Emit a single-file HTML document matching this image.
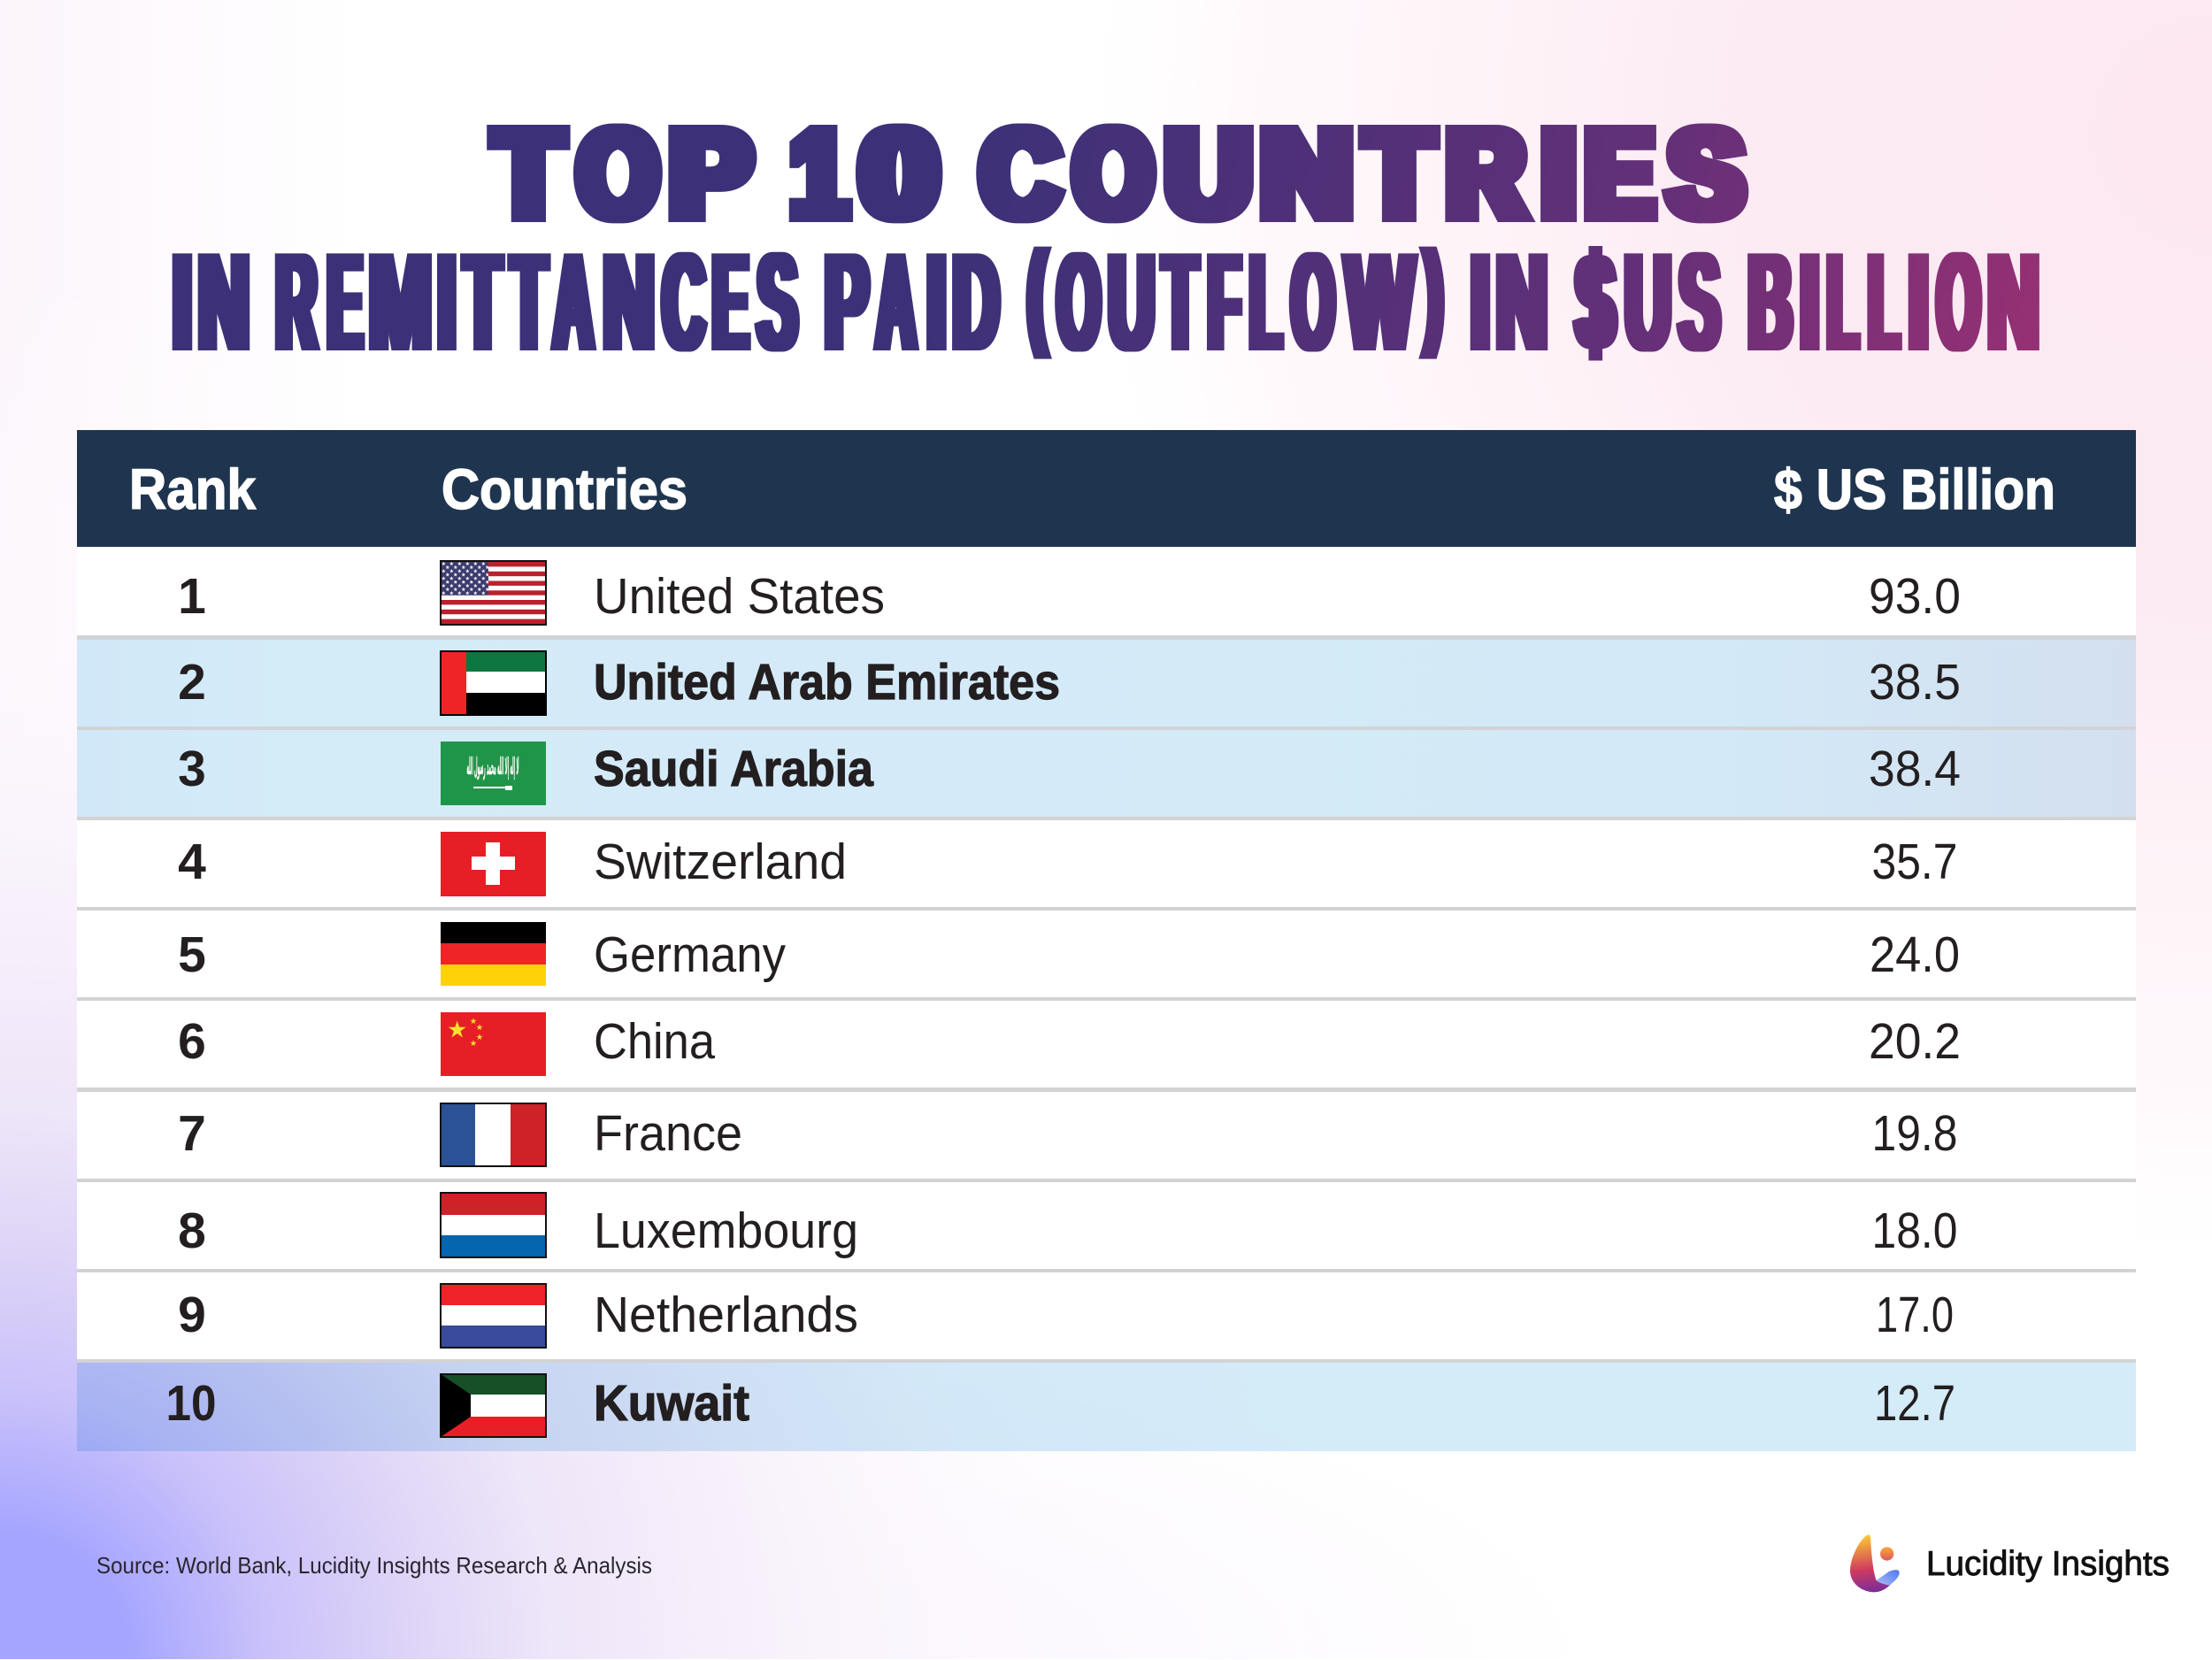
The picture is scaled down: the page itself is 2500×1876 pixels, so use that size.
<!DOCTYPE html>
<html lang="en">
<head>
<meta charset="utf-8">
<title>Top 10 Countries in Remittances Paid</title>
<style>
html,body{margin:0;padding:0;background:#fff;width:2500px;height:1876px;overflow:hidden}
svg{display:block}
text{font-family:"Liberation Sans",sans-serif}
.t{font-weight:700;fill:url(#titleGrad);stroke:url(#titleGrad);stroke-linejoin:miter;stroke-miterlimit:3}
.t1{font-size:141px;stroke-width:13px}
.t2{font-size:155px;stroke-width:3px}
.h{font-weight:700;font-size:64px;fill:#fff;stroke:#fff;stroke-width:1.5px}
.r{font-weight:700;font-size:57px;fill:#231f20;text-anchor:middle}
.c{font-size:57px;fill:#231f20}
.b{font-weight:700;font-size:57px;fill:#231f20;stroke:#231f20;stroke-width:1.2px}
.v{font-size:57px;fill:#231f20;text-anchor:middle}
</style>
</head>
<body>
<svg xmlns="http://www.w3.org/2000/svg" width="2500" height="1876" viewBox="0 0 2500 1876">
<defs>
<radialGradient id="bgBL" gradientUnits="userSpaceOnUse" cx="0" cy="1876" r="1600">
<stop offset="0.09" stop-color="#a5a5ff"/>
<stop offset="0.19" stop-color="#cac2fa"/>
<stop offset="0.3" stop-color="#e0d6f7"/>
<stop offset="0.39" stop-color="#eee6f9"/>
<stop offset="0.5" stop-color="#f6eefa"/>
<stop offset="0.7" stop-color="#fdfafe" stop-opacity="0.5"/>
<stop offset="1" stop-color="#ffffff" stop-opacity="0"/>
</radialGradient>
<radialGradient id="bgB" gradientUnits="userSpaceOnUse" cx="0" cy="0" r="1" gradientTransform="translate(700 1876) scale(1100 350)">
<stop offset="0" stop-color="#f6eefb" stop-opacity="0.8"/>
<stop offset="1" stop-color="#f6eefb" stop-opacity="0"/>
</radialGradient>
<radialGradient id="bgTR" gradientUnits="userSpaceOnUse" cx="2500" cy="150" r="1300">
<stop offset="0" stop-color="#fde8f2"/>
<stop offset="0.42" stop-color="#fcebf3"/>
<stop offset="0.65" stop-color="#fef4f8"/>
<stop offset="0.85" stop-color="#fff9fb"/>
<stop offset="1" stop-color="#ffffff" stop-opacity="0"/>
</radialGradient>
<linearGradient id="bgL" gradientUnits="userSpaceOnUse" x1="0" y1="0" x2="400" y2="0">
<stop offset="0" stop-color="#fcf5fb"/>
<stop offset="1" stop-color="#fcf5fb" stop-opacity="0"/>
</linearGradient>
<linearGradient id="rowGrad" gradientUnits="userSpaceOnUse" x1="87" y1="0" x2="2414" y2="0">
<stop offset="0" stop-color="#d1e8f8"/>
<stop offset="0.1" stop-color="#d4ebf8"/>
<stop offset="0.8" stop-color="#d3e9f7"/>
<stop offset="1" stop-color="#d3dfef"/>
</linearGradient>
<linearGradient id="titleGrad" gradientUnits="userSpaceOnUse" x1="1100" y1="150" x2="2350" y2="400">
<stop offset="0" stop-color="#3c3178"/>
<stop offset="0.6" stop-color="#622f78"/>
<stop offset="1" stop-color="#9b3073"/>
</linearGradient>
<linearGradient id="logoMain" x1="0.4" y1="0" x2="0.5" y2="1">
<stop offset="0" stop-color="#fdcb30"/>
<stop offset="0.6" stop-color="#d03a60"/>
<stop offset="1" stop-color="#7a2c9c"/>
</linearGradient>
<linearGradient id="logoWing" x1="1" y1="0" x2="0" y2="1">
<stop offset="0" stop-color="#4a78f2"/>
<stop offset="1" stop-color="#b0bcf5"/>
</linearGradient>
<linearGradient id="logoDot" x1="0.5" y1="0" x2="0.5" y2="1">
<stop offset="0" stop-color="#f9a83c"/>
<stop offset="1" stop-color="#e0585c"/>
</linearGradient>
<filter id="thicken1" filterUnits="userSpaceOnUse" x="0" y="100" width="2500" height="190" color-interpolation-filters="sRGB">
<feMorphology operator="dilate" radius="5 0"/>
</filter>
<filter id="thicken2" filterUnits="userSpaceOnUse" x="0" y="260" width="2500" height="170" color-interpolation-filters="sRGB">
<feMorphology operator="dilate" radius="5 0"/>
</filter>
<polygon id="star" points="0,-1 0.225,-0.309 0.951,-0.309 0.363,0.118 0.588,0.809 0,0.382 -0.588,0.809 -0.363,0.118 -0.951,-0.309 -0.225,-0.309"/>
<pattern id="usStars" patternUnits="userSpaceOnUse" x="499" y="635" width="9" height="8.3">
<use href="#star" transform="translate(2.3 2.1) scale(2.5)" fill="#fff"/>
<use href="#star" transform="translate(6.8 6.2) scale(2.5)" fill="#fff"/>
</pattern>
</defs>

<g>
<rect width="2500" height="1876" fill="#fff"/>
<rect width="2500" height="1876" fill="url(#bgL)"/>
<rect width="2500" height="1876" fill="url(#bgTR)"/>
<rect width="2500" height="1876" fill="url(#bgB)"/>
<rect width="2500" height="1876" fill="url(#bgBL)"/>
<rect y="1875" width="2500" height="1" fill="#fff"/>
</g>

<g>
<g filter="url(#thicken1)">
<text class="t t1 fit" y="244.5" data-size="141" data-stroke="13" data-dilate="5" data-edges="551.4,643.4 648.4,748.8 756.2,854.9">TOP</text>
<text class="t t1 fit" y="244.5" data-size="141" data-stroke="13" data-dilate="5" data-edges="891.4,961 967,1065.5">10</text>
<text class="t t1 fit" y="244.5" data-size="141" data-stroke="13" data-dilate="5" data-edges="1103.7,1202.3 1209,1307.8 1316,1415.6 1423.9,1529.2 1535.8,1627 1633.7,1733.2 1741.5,1782 1790.4,1873.3 1880,1976">COUNTRIES</text>
</g>
<g filter="url(#thicken2)">
<text class="t t2 fit" y="394.5" data-size="155" data-stroke="3" data-dilate="5" data-edges="194.9,217.2 223.9,281.9">IN</text>
<text class="t t2 fit" y="394.5" data-size="155" data-stroke="3" data-dilate="5" data-edges="310.9,363.2 369,412.1 417.1,487.6 494.2,515.8 520.7,570.5 573.8,621.9 620.2,675.8 681.6,739.6 746.3,799.3 804.3,848.3 853.2,903.8">REMITTANCES</text>
<text class="t t2 fit" y="394.5" data-size="155" data-stroke="3" data-dilate="5" data-edges="932,984.2 985,1040.6 1047.3,1069.7 1076.3,1131.8">PAID</text>
<text class="t t2 fit" y="394.5" data-size="155" data-stroke="3" data-dilate="5" data-edges="1159.2,1185.7 1192.4,1246.3 1252.2,1305.3 1310.3,1357.5 1364.2,1404.8 1411.4,1452.9 1457,1511 1515,1603.8 1606.3,1632.8">(OUTFLOW)</text>
<text class="t t2 fit" y="394.5" data-size="155" data-stroke="3" data-dilate="5" data-edges="1661.9,1684.2 1690.9,1748.9">IN</text>
<text class="t t2 fit" y="394.5" data-size="155" data-stroke="3" data-dilate="5" data-edges="1778,1828.5 1836,1889 1894.9,1946.3">$US</text>
<text class="t t2 fit" y="394.5" data-size="155" data-stroke="3" data-dilate="5" data-edges="1975.3,2027.5 2034.2,2056.5 2064,2104.6 2110.5,2151 2156.9,2180 2186.7,2240.6 2246.4,2304.5">BILLION</text>
</g>
</g>

<g>
<g>
<rect x="87" y="486" width="2327" height="132" fill="#1f354f"/>
<text class="h" x="146" y="575" textLength="143" lengthAdjust="spacingAndGlyphs">Rank</text>
<text class="h" x="499" y="575" textLength="278" lengthAdjust="spacingAndGlyphs">Countries</text>
<text class="h" x="2005" y="575" textLength="318" lengthAdjust="spacingAndGlyphs">$ US Billion</text>
</g>

<g>
<rect x="87" y="618" width="2327" height="100" fill="#fff"/>
<rect x="87" y="927" width="2327" height="609" fill="#fff"/>
<rect x="87" y="723" width="2327" height="98" fill="url(#rowGrad)"/>
<rect x="87" y="825" width="2327" height="98" fill="url(#rowGrad)"/>
<rect x="87" y="1540" width="2327" height="100" fill="#d4ebf8" style="mix-blend-mode:multiply"/>
<g fill="#d2d3d5">
<rect x="87" y="718" width="2327" height="5"/>
<rect x="87" y="821" width="2327" height="4"/>
<rect x="87" y="923" width="2327" height="4"/>
<rect x="87" y="1025" width="2327" height="4"/>
<rect x="87" y="1127" width="2327" height="4"/>
<rect x="87" y="1229" width="2327" height="5"/>
<rect x="87" y="1332" width="2327" height="4"/>
<rect x="87" y="1434" width="2327" height="4"/>
<rect x="87" y="1536" width="2327" height="4"/>
</g>
</g>

<g>
<text class="r" x="217" y="693">1</text>
<g>
<rect x="497" y="633" width="121" height="74" fill="#111"/>
<rect x="499" y="635" width="117" height="70" fill="#fff"/>
<g fill="#bb202d">
<rect x="499" y="635" width="117" height="5.4"/><rect x="499" y="645.8" width="117" height="5.4"/><rect x="499" y="656.5" width="117" height="5.4"/><rect x="499" y="667.3" width="117" height="5.4"/><rect x="499" y="678" width="117" height="5.4"/><rect x="499" y="688.8" width="117" height="5.4"/><rect x="499" y="699.6" width="117" height="5.4"/>
</g>
<rect x="499" y="635" width="53" height="37.7" fill="#3c3b6e"/>
<rect x="499" y="635" width="53" height="37.7" fill="url(#usStars)"/>
</g>
<text class="c" x="671" y="693" textLength="329" lengthAdjust="spacingAndGlyphs">United States</text>
<text class="v" x="2164" y="693" textLength="104" lengthAdjust="spacingAndGlyphs">93.0</text>
</g>

<g>
<text class="r" x="217" y="790">2</text>
<g>
<rect x="497" y="735" width="121" height="74" fill="#000"/>
<rect x="527" y="737" width="89" height="22" fill="#0e7640"/>
<rect x="527" y="759" width="89" height="24" fill="#fff"/>
<rect x="499" y="737" width="28" height="70" fill="#ef2427"/>
</g>
<text class="b" x="671" y="790" textLength="527" lengthAdjust="spacingAndGlyphs">United Arab Emirates</text>
<text class="v" x="2164" y="790" textLength="104" lengthAdjust="spacingAndGlyphs">38.5</text>
</g>

<g>
<text class="r" x="217" y="888">3</text>
<g>
<rect x="498" y="838" width="119" height="72" fill="#1f9549"/>
<text x="557" y="875" fill="#fff" stroke="#fff" stroke-width="0.5" font-size="26" font-weight="700" text-anchor="middle" textLength="59" lengthAdjust="spacingAndGlyphs" style="font-family:'DejaVu Sans',sans-serif">لا إله إلا الله محمد رسول الله</text>
<rect x="535" y="889" width="40" height="2" fill="#fff"/>
<rect x="571" y="888" width="8" height="5" fill="#fff"/>
</g>
<text class="b" x="671" y="888" textLength="316" lengthAdjust="spacingAndGlyphs">Saudi Arabia</text>
<text class="v" x="2164" y="888" textLength="104" lengthAdjust="spacingAndGlyphs">38.4</text>
</g>

<g>
<text class="r" x="217" y="993">4</text>
<g>
<rect x="498" y="940" width="119" height="73" fill="#e61f26"/>
<rect x="533" y="968" width="49" height="15" fill="#fff"/>
<rect x="549" y="952" width="16" height="48" fill="#fff"/>
</g>
<text class="c" x="671" y="993" textLength="286" lengthAdjust="spacingAndGlyphs">Switzerland</text>
<text class="v" x="2164" y="993" textLength="97" lengthAdjust="spacingAndGlyphs">35.7</text>
</g>

<g>
<text class="r" x="217" y="1098">5</text>
<g>
<rect x="498" y="1042" width="119" height="24" fill="#000"/>
<rect x="498" y="1066" width="119" height="24" fill="#ef2427"/>
<rect x="498" y="1090" width="119" height="24" fill="#ffd109"/>
</g>
<text class="c" x="671" y="1098" textLength="217" lengthAdjust="spacingAndGlyphs">Germany</text>
<text class="v" x="2164" y="1098" textLength="102" lengthAdjust="spacingAndGlyphs">24.0</text>
</g>

<g>
<text class="r" x="217" y="1196">6</text>
<g>
<rect x="498" y="1144" width="119" height="72" fill="#e61f26"/>
<g fill="#fde02f">
<use href="#star" transform="translate(516.7 1164) scale(10.5)"/>
<use href="#star" transform="translate(535 1154) scale(3.8)"/>
<use href="#star" transform="translate(542 1161) scale(3.8)"/>
<use href="#star" transform="translate(542 1172) scale(3.8)"/>
<use href="#star" transform="translate(535 1179) scale(3.8)"/>
</g>
</g>
<text class="c" x="671" y="1196" textLength="137" lengthAdjust="spacingAndGlyphs">China</text>
<text class="v" x="2164" y="1196" textLength="104" lengthAdjust="spacingAndGlyphs">20.2</text>
</g>

<g>
<text class="r" x="217" y="1300">7</text>
<g>
<rect x="497" y="1246" width="121" height="73" fill="#111"/>
<rect x="499" y="1248" width="38" height="69" fill="#2b5197"/>
<rect x="537" y="1248" width="40" height="69" fill="#fff"/>
<rect x="577" y="1248" width="39" height="69" fill="#cd2228"/>
</g>
<text class="c" x="671" y="1300" textLength="168" lengthAdjust="spacingAndGlyphs">France</text>
<text class="v" x="2164" y="1300" textLength="97" lengthAdjust="spacingAndGlyphs">19.8</text>
</g>

<g>
<text class="r" x="217" y="1410">8</text>
<g>
<rect x="497" y="1347" width="121" height="75" fill="#111"/>
<rect x="499" y="1349" width="117" height="24" fill="#cd2228"/>
<rect x="499" y="1373" width="117" height="23" fill="#fff"/>
<rect x="499" y="1396" width="117" height="24" fill="#0565ae"/>
</g>
<text class="c" x="671" y="1410" textLength="299" lengthAdjust="spacingAndGlyphs">Luxembourg</text>
<text class="v" x="2164" y="1410" textLength="97" lengthAdjust="spacingAndGlyphs">18.0</text>
</g>

<g>
<text class="r" x="217" y="1505">9</text>
<g>
<rect x="497" y="1450" width="121" height="74" fill="#111"/>
<rect x="499" y="1452" width="117" height="23" fill="#ef2129"/>
<rect x="499" y="1475" width="117" height="23" fill="#fff"/>
<rect x="499" y="1498" width="117" height="24" fill="#39499c"/>
</g>
<text class="c" x="671" y="1505" textLength="299" lengthAdjust="spacingAndGlyphs">Netherlands</text>
<text class="v" x="2164" y="1505" textLength="88" lengthAdjust="spacingAndGlyphs">17.0</text>
</g>

<g>
<text class="r" x="216" y="1605" textLength="57" lengthAdjust="spacingAndGlyphs">10</text>
<g>
<rect x="497" y="1552" width="121" height="73" fill="#111"/>
<rect x="499" y="1554" width="117" height="22" fill="#174f27"/>
<rect x="499" y="1576" width="117" height="25" fill="#fff"/>
<rect x="499" y="1601" width="117" height="22" fill="#e91f27"/>
<polygon points="498,1553 532,1576 532,1601 498,1624" fill="#000"/>
</g>
<text class="b" x="671" y="1605" textLength="176" lengthAdjust="spacingAndGlyphs">Kuwait</text>
<text class="v" x="2164" y="1605" textLength="92" lengthAdjust="spacingAndGlyphs">12.7</text>
</g>
</g>

<text x="109" y="1778" font-size="26" fill="#2a2430" textLength="628" lengthAdjust="spacingAndGlyphs">Source: World Bank, Lucidity Insights Research &amp; Analysis</text>

<g>
<g transform="translate(2050 1700) scale(0.3333)">
<path d="M185,103 C160,110 123,180 123,225 C123,270 165,298 205,298 C225,298 245,288 262,270 C245,270 225,266 212,258 C200,230 195,160 192,115 C191,105 190,103 185,103 Z" fill="url(#logoMain)"/>
<path d="M212,258 L255,228 C270,222 290,218 290,232 C290,245 275,262 255,275 C230,270 215,262 212,258 Z" fill="url(#logoWing)"/>
<circle cx="248" cy="168" r="23" fill="url(#logoDot)"/>
</g>
<text x="2177" y="1780" font-size="39" fill="#111" stroke="#111" stroke-width="0.9" textLength="275" lengthAdjust="spacingAndGlyphs">Lucidity Insights</text>
</g>
</svg>
<script>
/* Fits each title letter to the heavy condensed letterforms of the original:
   advance, left bearing and ink width per glyph, in em units. */
const glyphMetrics = {
  T:[.611,.021,.569], O:[.778,.045,.69], P:[.667,.073,.555], '1':[.556,.06,.44], '0':[.556,.04,.475],
  C:[.722,.045,.635], U:[.722,.07,.58], N:[.722,.07,.58], R:[.722,.07,.65], I:[.278,.07,.14],
  E:[.667,.07,.55], S:[.667,.04,.585], M:[.833,.07,.69], A:[.722,0,.722], D:[.722,.07,.61],
  F:[.611,.07,.5], L:[.611,.07,.53], W:[.944,0,.944], B:[.722,.07,.6], $:[.556,.03,.5],
  '(':[.333,.05,.24], ')':[.333,.04,.24]
};
const svgNS = 'http://www.w3.org/2000/svg';
document.querySelectorAll('.fit').forEach(function (el) {
  const baseSize = +el.dataset.size, stroke = +el.dataset.stroke, dilate = +el.dataset.dilate;
  const baseY = +el.getAttribute('y');
  const edges = el.dataset.edges.split(' ').map(function (p) { return p.split(',').map(Number); });
  const chars = Array.from(el.textContent);
  el.textContent = '';
  chars.forEach(function (ch, i) {
    const m = glyphMetrics[ch];
    const paren = ch === '(' || ch === ')';
    const size = paren ? 133 : baseSize;
    const left = edges[i][0], width = edges[i][1] - left;
    const sx = (width - 2 * dilate) / (m[2] * size + stroke);
    const x = left + dilate - (m[1] * size - stroke / 2) * sx;
    const t = document.createElementNS(svgNS, 'tspan');
    
    
    t.setAttribute('x', x.toFixed(2));
    t.setAttribute('y', paren ? baseY - 18 : baseY);
    t.setAttribute('textLength', (m[0] * size * sx).toFixed(2));
    t.setAttribute('lengthAdjust', 'spacingAndGlyphs');
    t.style.fontSize = size + 'px';
    t.textContent = ch;
    el.appendChild(t);
  });
});
</script>
</body>
</html>
